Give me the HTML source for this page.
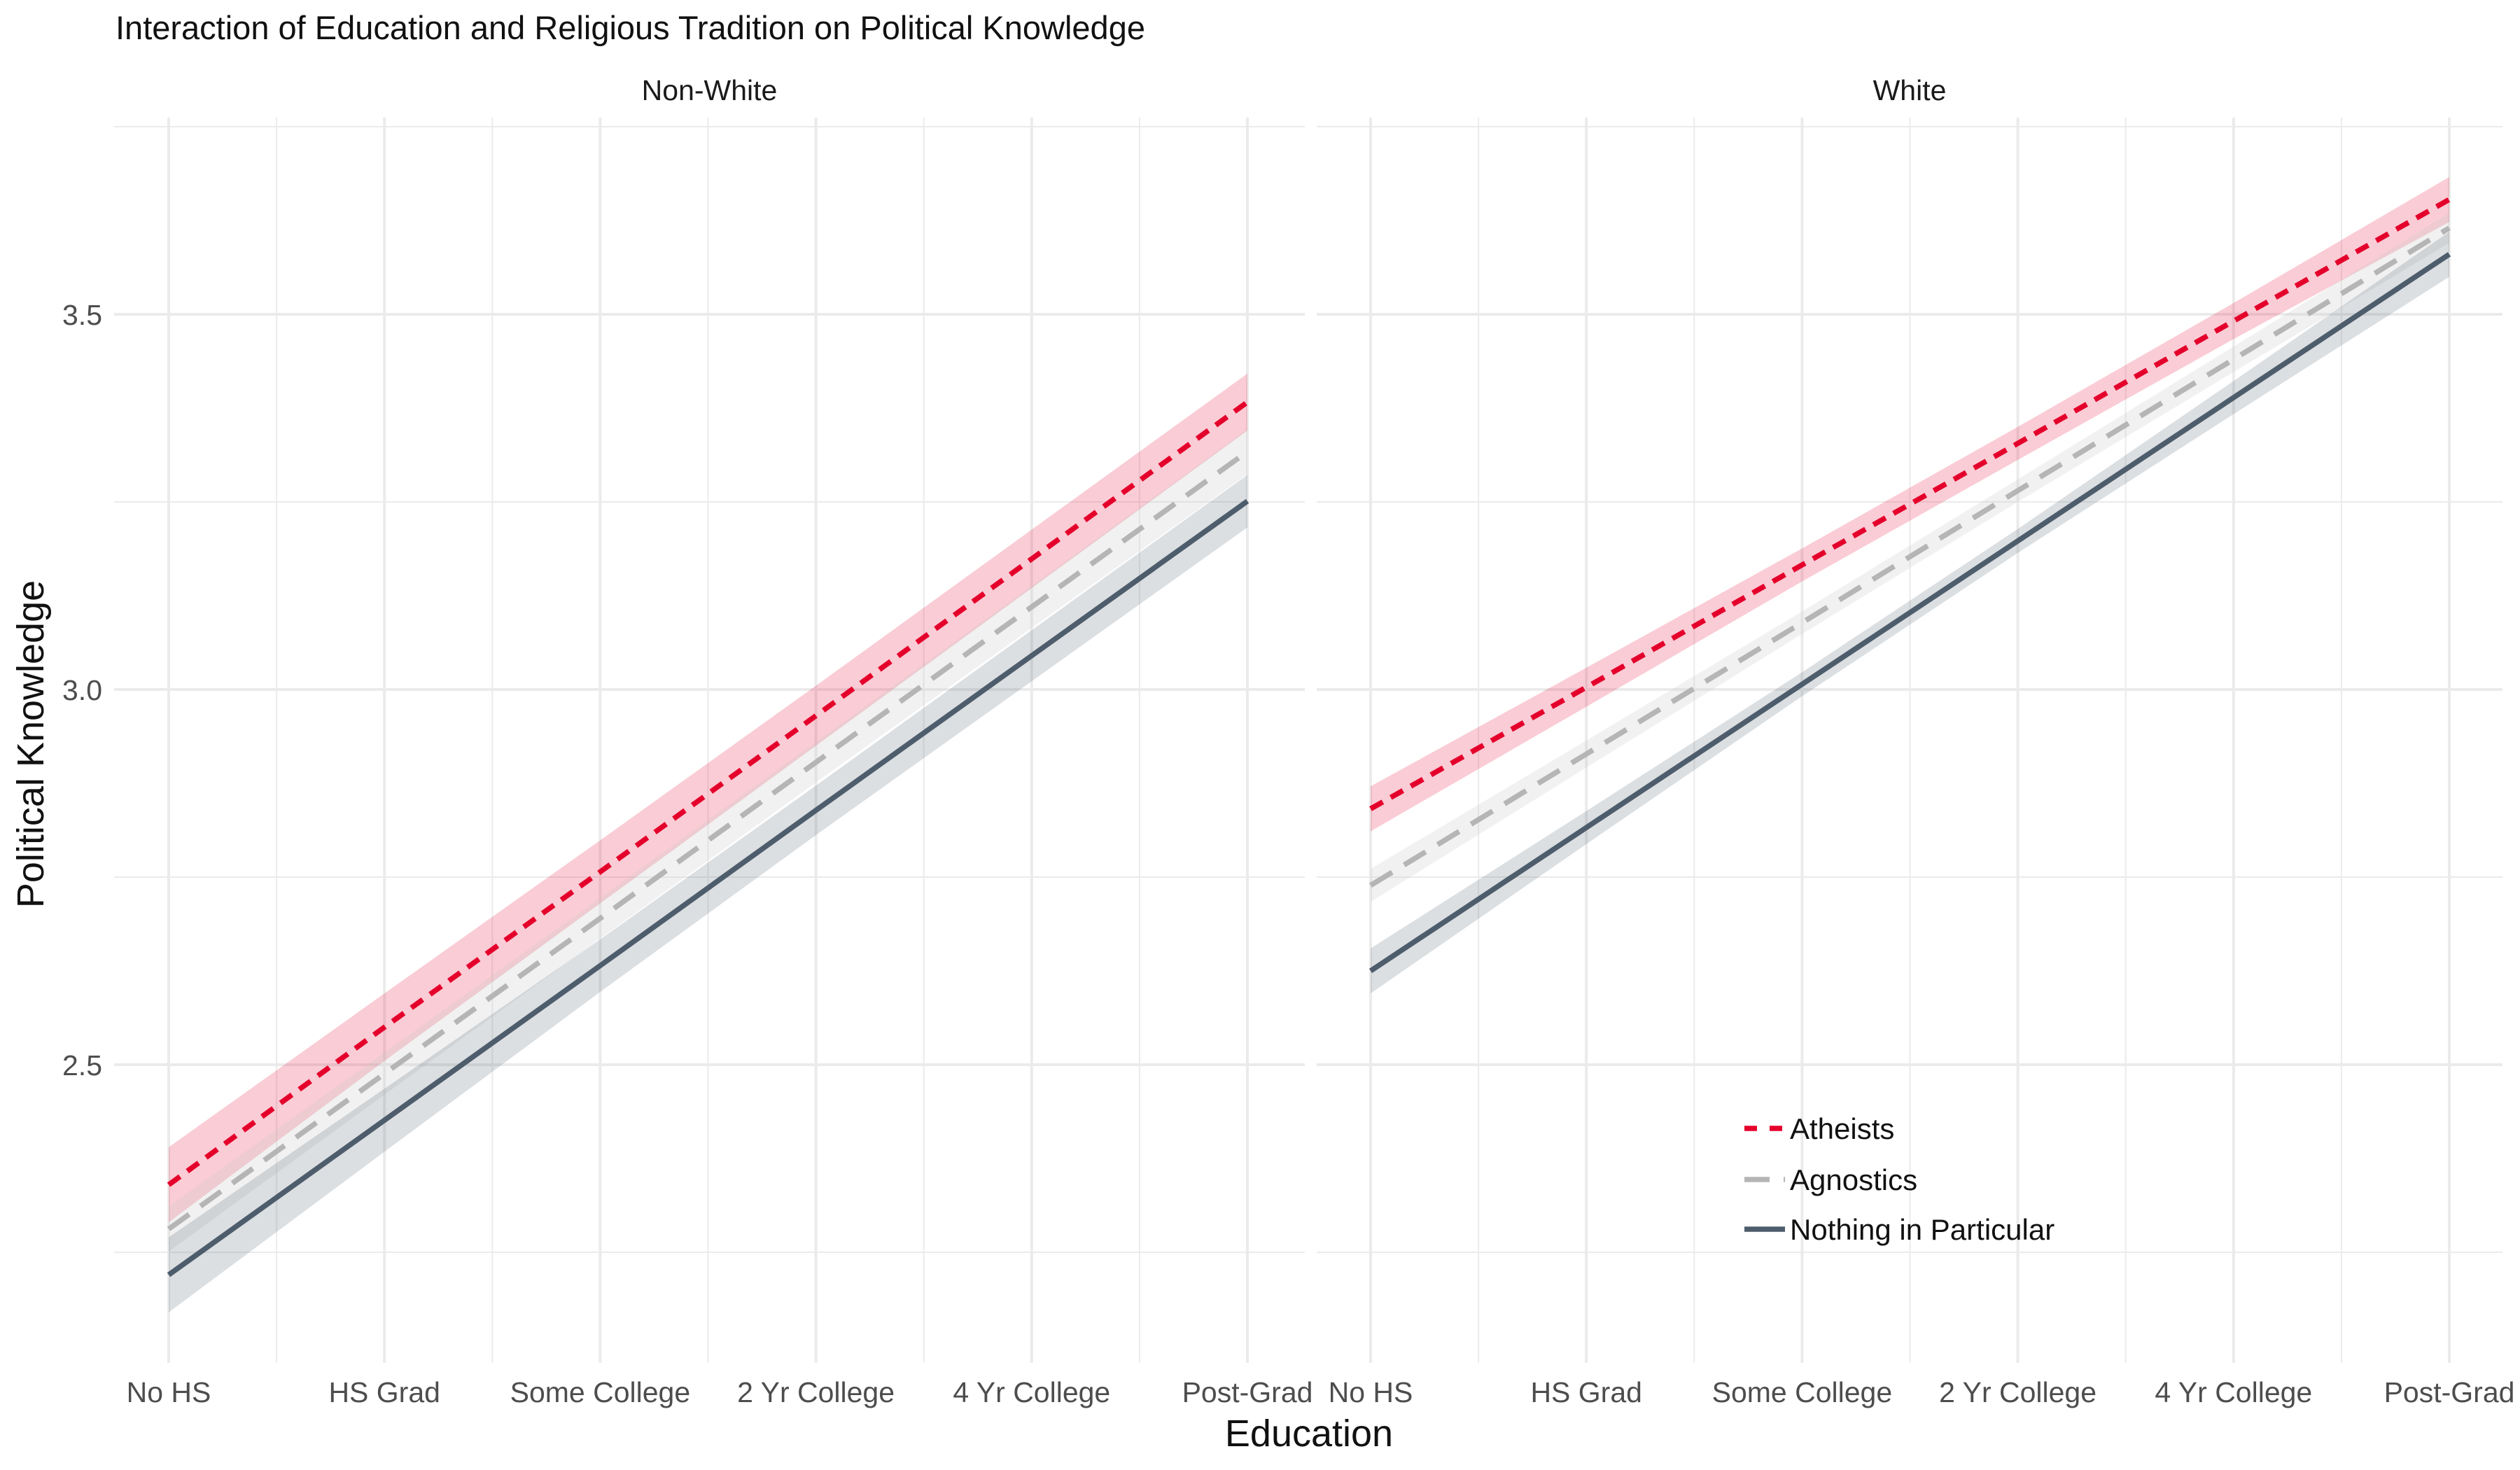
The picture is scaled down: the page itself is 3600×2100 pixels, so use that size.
<!DOCTYPE html>
<html><head><meta charset="utf-8">
<style>
html,body{margin:0;padding:0;background:#fff;}
svg{display:block;font-family:"Liberation Sans",sans-serif;}
</style></head>
<body>
<svg id="chart" width="3600" height="2100" viewBox="0 0 3600 2100" xmlns="http://www.w3.org/2000/svg">
<text x="165" y="56" font-size="47" fill="#111">Interaction of Education and Religious Tradition on Political Knowledge</text>
<text x="1870" y="2066" font-size="54" text-anchor="middle" fill="#111">Education</text>
<text transform="translate(62,1063) rotate(-90)" font-size="54" text-anchor="middle" fill="#111">Political Knowledge</text>
<g id="panels"></g>
<g id="legend"></g>
</svg>
<script>
const categories = ["No HS","HS Grad","Some College","2 Yr College","4 Yr College","Post-Grad"];
const panels = ["Non-White","White"];
const seriesNames = ["Atheists","Agnostics","Nothing in Particular"];
const yTicks = [2.5,3.0,3.5];
const yTickLabels = ["2.5","3.0","3.5"];
const yMinor = [2.25,2.75,3.25,3.75];
// Non-White
const nwAtheists = [2.34,2.55,2.757,2.965,3.174,3.383];
const nwAtheistsSE = [0.05,0.045,0.042,0.04,0.039,0.038];
const nwAgnostics = [2.281,2.488,2.695,2.903,3.110,3.317];
const nwAgnosticsSE = [0.03,0.028,0.027,0.027,0.028,0.03];
const nwNothing = [2.22,2.426,2.632,2.839,3.045,3.251];
const nwNothingSE = [0.05,0.042,0.035,0.033,0.034,0.035];
// White
const wAtheists = [2.841,3.003,3.166,3.328,3.491,3.653];
const wAtheistsSE = [0.03,0.026,0.022,0.022,0.024,0.03];
const wAgnostics = [2.739,2.914,3.089,3.265,3.440,3.615];
const wAgnosticsSE = [0.022,0.018,0.015,0.015,0.017,0.02];
const wNothing = [2.625,2.816,3.007,3.198,3.389,3.58];
const wNothingSE = [0.03,0.022,0.016,0.016,0.022,0.03];

const NS = "http://www.w3.org/2000/svg";
const panelLeft = [163,1881];
const panelRight = [1864,3575];
const firstX = [241,1958];
const stepX = 308.2;
const plotTop = 168, plotBottom = 1947;
function xScale(p,i){ return firstX[p] + i*stepX; }
function yScale(v){ return 985 - (v-3.0)*1072; }
function mk(tag,attrs,parent){ const e=document.createElementNS(NS,tag); for(const k in attrs) e.setAttribute(k,attrs[k]); parent.appendChild(e); return e; }

const styles = [
  {color:"#e4002b", fill:"rgba(228,0,43,0.2)", dash:"20 13"},
  {color:"#b5b5b5", fill:"rgba(200,200,200,0.25)", dash:"36 20"},
  {color:"#4e5d6c", fill:"rgba(78,93,108,0.2)", dash:""}
];
const data = [
  [[nwAtheists,nwAtheistsSE],[nwAgnostics,nwAgnosticsSE],[nwNothing,nwNothingSE]],
  [[wAtheists,wAtheistsSE],[wAgnostics,wAgnosticsSE],[wNothing,wNothingSE]]
];
const root = document.getElementById("panels");
panels.forEach((pn,p)=>{
  const g = mk("g",{},root);
  
  
  const strip = mk("text",{x:(panelLeft[p]+panelRight[p])/2,y:143,"font-size":41,"text-anchor":"middle",fill:"#1a1a1a"},g);
  strip.textContent = pn;
  
  
  yMinor.forEach(v=>{
    const l = mk("line",{x1:panelLeft[p],x2:panelRight[p],y1:yScale(v),y2:yScale(v),stroke:"#ebebeb","stroke-width":2},g);
    
    
  });
  yTicks.forEach((v,i)=>{
    const l = mk("line",{x1:panelLeft[p],x2:panelRight[p],y1:yScale(v),y2:yScale(v),stroke:"#ebebeb","stroke-width":4},g);
    
    
    if(p===0){
      const t = mk("text",{x:146,y:yScale(v)+15,"font-size":41,"text-anchor":"end",fill:"#4d4d4d"},g);
      t.textContent = yTickLabels[i];
      
      
    }
  });
  for(let i=0;i<categories.length-1;i++){
    const xm = xScale(p,i+0.5);
    const l = mk("line",{x1:xm,x2:xm,y1:plotTop,y2:plotBottom,stroke:"#ebebeb","stroke-width":2},g);
    
    
  }
  categories.forEach((c,i)=>{
    const x = xScale(p,i);
    const l = mk("line",{x1:x,x2:x,y1:plotTop,y2:plotBottom,stroke:"#ebebeb","stroke-width":4},g);
    
    
    const t = mk("text",{x:x,y:2003,"font-size":41,"text-anchor":"middle",fill:"#4d4d4d"},g);
    t.textContent = c;
    
    
  });
  data[p].forEach((s,k)=>{
    const vals=s[0], se=s[1];
    let up = vals.map((v,i)=>xScale(p,i)+","+yScale(v+se[i]));
    let lo = vals.map((v,i)=>xScale(p,i)+","+yScale(v-se[i])).reverse();
    const r = mk("polygon",{points:up.concat(lo).join(" "),fill:styles[k].fill},g);
    
    
  });
  data[p].forEach((s,k)=>{
    const vals=s[0];
    const pts = vals.map((v,i)=>xScale(p,i)+","+yScale(v)).join(" ");
    const attrs = {points:pts,fill:"none",stroke:styles[k].color,"stroke-width":7.5};
    if(styles[k].dash) attrs["stroke-dasharray"]=styles[k].dash;
    const ln = mk("polyline",attrs,g);
    
    
  });
});
const lg = document.getElementById("legend");
const legY = [1612,1685,1756];
seriesNames.forEach((n,k)=>{
  const g = mk("g",{},lg);
  
  
  const attrs = {x1:2492,x2:2550,y1:legY[k],y2:legY[k],stroke:styles[k].color,"stroke-width":7.5};
  if(styles[k].dash) attrs["stroke-dasharray"]=k===0?"18 18":"36 20";
  mk("line",attrs,g);
  const t = mk("text",{x:2557,y:legY[k]+15,"font-size":42,fill:"#111"},g);
  t.textContent = n;
});
</script>
</body></html>
